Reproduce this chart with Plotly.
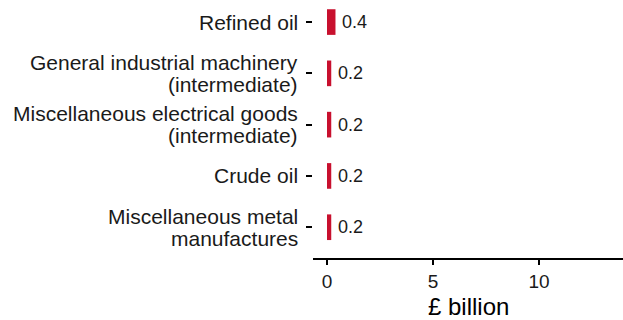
import plotly.graph_objects as go

categories = [
    "Miscellaneous metal<br>manufactures",
    "Crude oil",
    "Miscellaneous electrical goods<br>(intermediate)",
    "General industrial machinery<br>(intermediate)",
    "Refined oil",
]
values = [0.2, 0.2, 0.2, 0.2, 0.4]
labels = ["0.2", "0.2", "0.2", "0.2", "0.4"]
x_ticks = [0, 5, 10]
x_title = "£ billion"

BAR_RED = "#C8102E"
FONT = "Liberation Sans"
TEXT = "#1a1a1a"

fig = go.Figure(
    go.Bar(
        x=values,
        y=categories,
        orientation="h",
        width=0.5,
        marker=dict(color=BAR_RED, line=dict(width=0)),
        hoverinfo="skip",
    )
)

# value labels just to the right of each bar
for cat, val, lab in zip(categories, values, labels):
    fig.add_annotation(
        x=val, y=cat, text=lab, showarrow=False,
        xanchor="left", yanchor="middle", xshift=5,
        font=dict(family=FONT, size=18, color=TEXT),
    )

# category labels, one annotation per line for a tight line height
LINE_GAP = 22
for cat in categories:
    lines = cat.split("<br>")
    n = len(lines)
    for i, line in enumerate(lines):
        offset = ((n - 1) / 2 - i) * LINE_GAP
        fig.add_annotation(
            x=0, xref="paper", y=cat, yref="y", text=line, showarrow=False,
            xanchor="right", yanchor="middle", xshift=-13, yshift=offset,
            font=dict(family=FONT, size=21, color=TEXT),
        )

# x-axis title placed below the tick labels
fig.add_annotation(
    x=0.5, xref="paper", y=0, yref="paper", text=x_title, showarrow=False,
    xanchor="center", yanchor="top", yshift=-33,
    font=dict(family=FONT, size=24, color="black"),
)

fig.update_layout(
    width=623, height=320,
    margin=dict(l=313, r=0, t=0, b=62),
    paper_bgcolor="white", plot_bgcolor="white",
    showlegend=False,
    font=dict(family=FONT, color=TEXT),
    xaxis=dict(
        range=[-0.66, 13.96],
        tickvals=x_ticks,
        ticktext=[str(t) for t in x_ticks],
        showgrid=False, zeroline=False,
        showline=True, linecolor="black", linewidth=2,
        ticks="outside", ticklen=5, tickwidth=2, tickcolor="black",
        tickfont=dict(size=19, family=FONT, color=TEXT),
    ),
    yaxis=dict(
        type="category",
        categoryorder="array", categoryarray=categories,
        range=[-0.6, 4.43],
        showgrid=False, zeroline=False, showline=False,
        ticks="outside", ticklen=6, tickwidth=2, tickcolor="black",
        showticklabels=False,
    ),
)

fig.write_html("out.html")
